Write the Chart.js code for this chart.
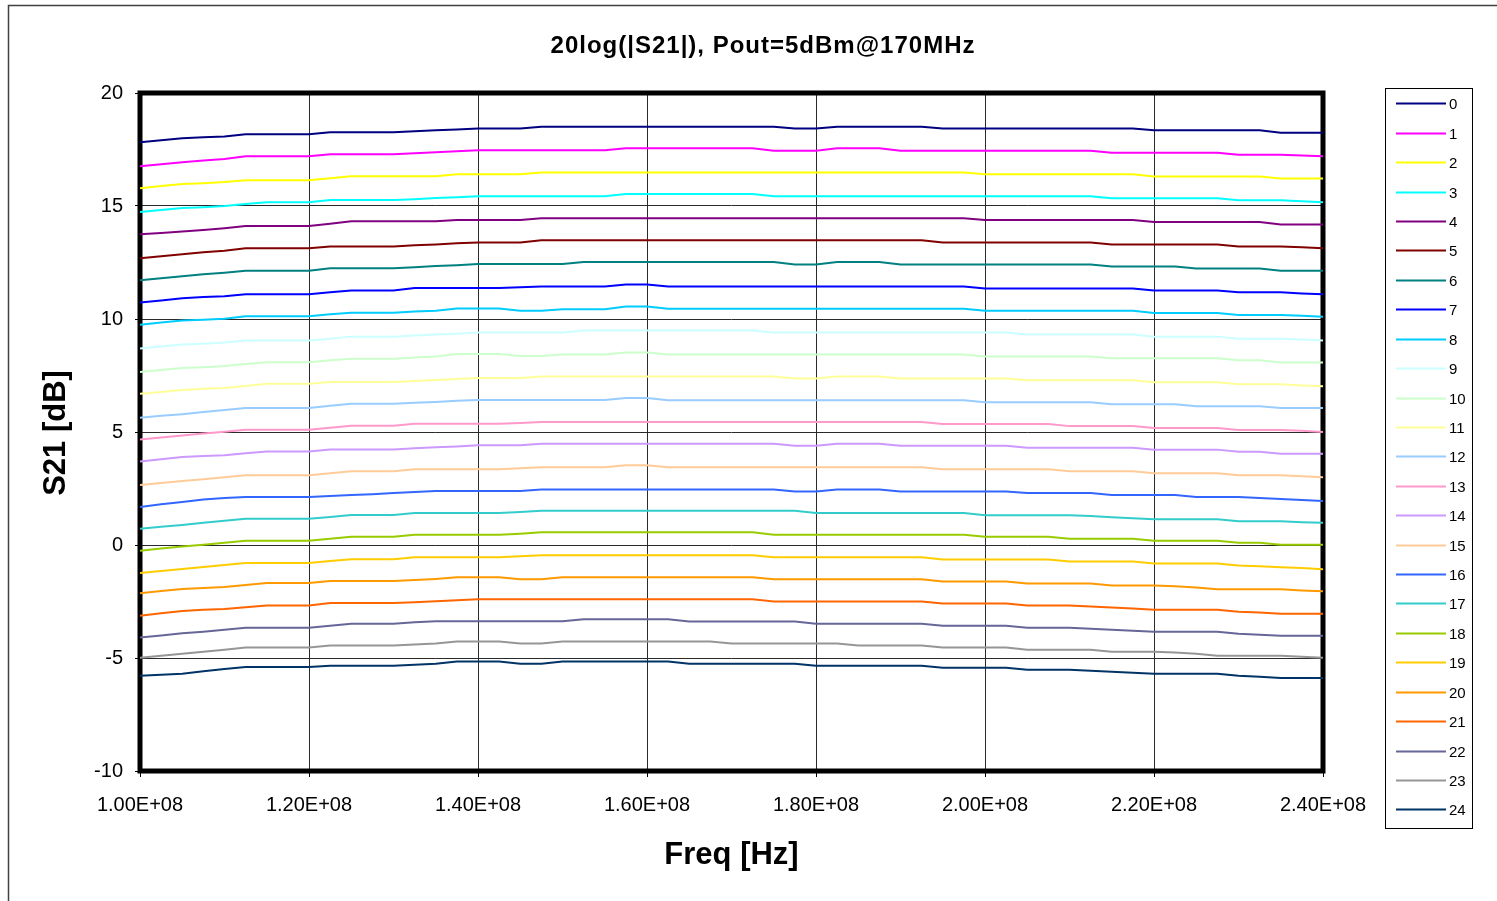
<!DOCTYPE html>
<html>
<head>
<meta charset="utf-8">
<title>S21 vs Freq</title>
<script src="https://cdn.jsdelivr.net/npm/chart.js@4.4.1/dist/chart.umd.min.js"></script>
<style>
  html, body { margin: 0; padding: 0; background: #fff; }
  #wrap { position: relative; width: 1497px; height: 901px; }
</style>
</head>
<body>
<div id="wrap"><canvas id="s21-chart"></canvas></div>
<script>
// Frequency points [MHz]
const freqMHz = [
  100, 102.5, 105, 107.5, 110, 112.5, 115, 117.5, 120, 122.5, 125, 127.5, 130, 132.5, 135, 137.5, 140, 142.5, 145,
  147.5, 150, 152.5, 155, 157.5, 160, 162.5, 165, 167.5, 170, 172.5, 175, 177.5, 180, 182.5, 185, 187.5, 190, 192.5,
  195, 197.5, 200, 202.5, 205, 207.5, 210, 212.5, 215, 217.5, 220, 222.5, 225, 227.5, 230, 232.5, 235, 237.5, 240
];

const xTickValues = [1.0e8, 1.2e8, 1.4e8, 1.6e8, 1.8e8, 2.0e8, 2.2e8, 2.4e8];
const xTickLabels = ['1.00E+08', '1.20E+08', '1.40E+08', '1.60E+08', '1.80E+08', '2.00E+08', '2.20E+08', '2.40E+08'];
const yTickValues = [-10, -5, 0, 5, 10, 15, 20];
const yTickLabels = ['-10', '-5', '0', '5', '10', '15', '20'];

const seriesNames = ['0','1','2','3','4','5','6','7','8','9','10','11','12','13','14','15','16','17','18','19','20','21','22','23','24'];
const seriesColors = [
  '#000080', '#FF00FF', '#FFFF00', '#00FFFF', '#800080', '#800000', '#008080', '#0000FF', '#00CCFF',
  '#CCFFFF', '#CCFFCC', '#FFFF99', '#99CCFF', '#FF99CC', '#CC99FF', '#FFCC99', '#3366FF', '#33CCCC',
  '#99CC00', '#FFCC00', '#FF9900', '#FF6600', '#666699', '#969696', '#003366'
];

// 20log|S21| [dB], one array per curve
const s0 = [
  17.82,17.91,18.00,18.04,18.07,18.17,18.17,18.17,18.17,18.26,18.26,18.26,18.26,18.31,18.35,18.39,18.43,18.43,18.43,
  18.51,18.51,18.51,18.51,18.51,18.51,18.51,18.51,18.51,18.51,18.51,18.51,18.43,18.43,18.51,18.51,18.51,18.51,18.51,
  18.43,18.43,18.43,18.43,18.43,18.43,18.43,18.43,18.43,18.43,18.35,18.35,18.35,18.35,18.35,18.35,18.24,18.24,18.24];
const s1 = [
  16.76,16.85,16.94,17.01,17.08,17.20,17.20,17.20,17.20,17.29,17.29,17.29,17.29,17.33,17.38,17.42,17.47,17.47,17.47,
  17.47,17.47,17.47,17.47,17.55,17.55,17.55,17.55,17.55,17.55,17.55,17.45,17.45,17.45,17.55,17.55,17.55,17.45,17.45,
  17.45,17.45,17.45,17.45,17.45,17.45,17.45,17.45,17.36,17.36,17.36,17.36,17.36,17.36,17.27,17.27,17.27,17.24,17.20];
const s2 = [
  15.79,15.88,15.97,16.01,16.06,16.14,16.14,16.14,16.14,16.23,16.32,16.32,16.32,16.32,16.32,16.41,16.41,16.41,16.41,
  16.48,16.48,16.48,16.48,16.48,16.48,16.48,16.48,16.48,16.48,16.48,16.48,16.48,16.48,16.48,16.48,16.48,16.48,16.48,
  16.48,16.48,16.41,16.41,16.41,16.41,16.41,16.41,16.41,16.41,16.31,16.31,16.31,16.31,16.31,16.31,16.22,16.22,16.22];
const s3 = [
  14.73,14.82,14.91,14.95,15.00,15.09,15.17,15.17,15.17,15.26,15.26,15.26,15.26,15.30,15.35,15.39,15.43,15.43,15.43,
  15.43,15.43,15.43,15.43,15.53,15.53,15.53,15.53,15.53,15.53,15.53,15.43,15.43,15.43,15.43,15.43,15.43,15.43,15.43,
  15.43,15.43,15.43,15.43,15.43,15.43,15.43,15.43,15.34,15.34,15.34,15.34,15.34,15.34,15.25,15.25,15.25,15.21,15.17];
const s4 = [
  13.75,13.81,13.87,13.94,14.02,14.11,14.11,14.11,14.11,14.21,14.32,14.32,14.32,14.32,14.32,14.38,14.38,14.38,14.38,
  14.46,14.46,14.46,14.46,14.46,14.46,14.46,14.46,14.46,14.46,14.46,14.46,14.46,14.46,14.46,14.46,14.46,14.46,14.46,
  14.46,14.46,14.38,14.38,14.38,14.38,14.38,14.38,14.38,14.38,14.29,14.29,14.29,14.29,14.29,14.29,14.18,14.18,14.18];
const s5 = [
  12.69,12.78,12.87,12.95,13.02,13.13,13.13,13.13,13.13,13.21,13.21,13.21,13.21,13.26,13.30,13.35,13.39,13.39,13.39,
  13.48,13.48,13.48,13.48,13.48,13.48,13.48,13.48,13.48,13.48,13.48,13.48,13.48,13.48,13.48,13.48,13.48,13.48,13.48,
  13.39,13.39,13.39,13.39,13.39,13.39,13.39,13.39,13.30,13.30,13.30,13.30,13.30,13.30,13.21,13.21,13.21,13.17,13.13];
const s6 = [
  11.71,11.80,11.89,11.98,12.05,12.14,12.14,12.14,12.14,12.25,12.25,12.25,12.25,12.29,12.34,12.38,12.43,12.43,12.43,
  12.43,12.43,12.52,12.52,12.52,12.52,12.52,12.52,12.52,12.52,12.52,12.52,12.41,12.41,12.52,12.52,12.52,12.41,12.41,
  12.41,12.41,12.41,12.41,12.41,12.41,12.41,12.41,12.32,12.32,12.32,12.32,12.23,12.23,12.23,12.23,12.14,12.14,12.14];
const s7 = [
  10.73,10.82,10.92,10.97,11.01,11.09,11.09,11.09,11.09,11.18,11.26,11.26,11.26,11.37,11.37,11.37,11.37,11.37,11.40,
  11.44,11.44,11.44,11.44,11.53,11.53,11.44,11.44,11.44,11.44,11.44,11.44,11.44,11.44,11.44,11.44,11.44,11.44,11.44,
  11.44,11.44,11.35,11.35,11.35,11.35,11.35,11.35,11.35,11.35,11.26,11.26,11.26,11.26,11.18,11.18,11.18,11.13,11.09];
const s8 = [
  9.75,9.84,9.93,9.97,10.01,10.12,10.12,10.12,10.12,10.21,10.28,10.28,10.28,10.33,10.37,10.46,10.46,10.46,10.37,
  10.37,10.43,10.43,10.43,10.55,10.55,10.45,10.45,10.45,10.45,10.45,10.45,10.45,10.45,10.45,10.45,10.45,10.45,10.45,
  10.45,10.45,10.36,10.36,10.36,10.36,10.36,10.36,10.36,10.36,10.27,10.27,10.27,10.27,10.18,10.18,10.18,10.14,10.10];
const s9 = [
  8.70,8.78,8.87,8.91,8.96,9.05,9.05,9.05,9.05,9.13,9.22,9.22,9.22,9.27,9.31,9.35,9.40,9.40,9.40,
  9.40,9.40,9.49,9.49,9.49,9.49,9.49,9.49,9.49,9.49,9.49,9.40,9.40,9.40,9.40,9.40,9.40,9.40,9.40,
  9.40,9.40,9.40,9.40,9.31,9.31,9.31,9.31,9.31,9.31,9.22,9.22,9.22,9.22,9.13,9.13,9.13,9.09,9.05];
const s10 = [
  7.65,7.74,7.83,7.87,7.92,8.01,8.09,8.09,8.09,8.17,8.24,8.24,8.24,8.30,8.34,8.45,8.45,8.45,8.36,
  8.36,8.43,8.43,8.43,8.52,8.52,8.43,8.43,8.43,8.43,8.43,8.43,8.43,8.43,8.43,8.43,8.43,8.43,8.43,
  8.43,8.43,8.34,8.34,8.34,8.34,8.34,8.34,8.26,8.26,8.26,8.26,8.26,8.26,8.17,8.17,8.08,8.08,8.08];
const s11 = [
  6.69,6.77,6.86,6.91,6.95,7.04,7.13,7.13,7.13,7.21,7.21,7.21,7.21,7.26,7.30,7.34,7.39,7.39,7.39,
  7.46,7.46,7.46,7.46,7.46,7.46,7.46,7.46,7.46,7.46,7.46,7.46,7.37,7.37,7.46,7.46,7.46,7.37,7.37,
  7.37,7.37,7.37,7.37,7.29,7.29,7.29,7.29,7.29,7.29,7.20,7.20,7.20,7.20,7.11,7.11,7.11,7.06,7.02];
const s12 = [
  5.63,5.72,5.79,5.88,5.97,6.06,6.06,6.06,6.06,6.16,6.25,6.25,6.25,6.29,6.33,6.38,6.42,6.42,6.42,
  6.42,6.42,6.42,6.42,6.50,6.50,6.41,6.41,6.41,6.41,6.41,6.41,6.41,6.41,6.41,6.41,6.41,6.41,6.41,
  6.41,6.41,6.32,6.32,6.32,6.32,6.32,6.32,6.23,6.23,6.23,6.23,6.14,6.14,6.14,6.14,6.06,6.06,6.06];
const s13 = [
  4.67,4.76,4.85,4.93,5.01,5.10,5.10,5.10,5.10,5.19,5.28,5.28,5.28,5.37,5.37,5.37,5.37,5.37,5.40,
  5.44,5.44,5.44,5.44,5.44,5.44,5.44,5.44,5.44,5.44,5.44,5.44,5.44,5.44,5.44,5.44,5.44,5.44,5.44,
  5.35,5.35,5.35,5.35,5.35,5.35,5.26,5.26,5.26,5.26,5.18,5.18,5.18,5.18,5.09,5.09,5.09,5.05,5.00];
const s14 = [
  3.69,3.79,3.89,3.94,3.97,4.06,4.14,4.14,4.14,4.23,4.23,4.23,4.23,4.28,4.32,4.36,4.41,4.41,4.41,
  4.48,4.48,4.48,4.48,4.48,4.48,4.48,4.48,4.48,4.48,4.48,4.48,4.39,4.39,4.48,4.48,4.48,4.39,4.39,
  4.39,4.39,4.39,4.39,4.30,4.30,4.30,4.30,4.30,4.30,4.22,4.22,4.22,4.22,4.13,4.13,4.04,4.04,4.04];
const s15 = [
  2.65,2.74,2.83,2.91,3.00,3.09,3.09,3.09,3.09,3.18,3.26,3.26,3.26,3.35,3.35,3.35,3.35,3.35,3.40,
  3.44,3.44,3.44,3.44,3.53,3.53,3.44,3.44,3.44,3.44,3.44,3.44,3.44,3.44,3.44,3.44,3.44,3.44,3.44,
  3.35,3.35,3.35,3.35,3.35,3.35,3.26,3.26,3.26,3.26,3.18,3.18,3.18,3.18,3.09,3.09,3.09,3.04,3.00];
const s16 = [
  1.68,1.80,1.90,2.01,2.08,2.12,2.12,2.12,2.12,2.17,2.21,2.25,2.30,2.34,2.39,2.39,2.39,2.39,2.39,
  2.46,2.46,2.46,2.46,2.46,2.46,2.46,2.46,2.46,2.46,2.46,2.46,2.37,2.37,2.46,2.46,2.46,2.37,2.37,
  2.37,2.37,2.37,2.37,2.30,2.30,2.30,2.30,2.21,2.21,2.21,2.21,2.12,2.12,2.12,2.08,2.04,1.99,1.95];
const s17 = [
  0.72,0.81,0.89,0.98,1.07,1.16,1.16,1.16,1.16,1.24,1.33,1.33,1.33,1.42,1.42,1.42,1.42,1.42,1.46,
  1.51,1.51,1.51,1.51,1.51,1.51,1.51,1.51,1.51,1.51,1.51,1.51,1.51,1.42,1.42,1.42,1.42,1.42,1.42,
  1.42,1.42,1.32,1.32,1.32,1.32,1.32,1.28,1.23,1.18,1.14,1.14,1.14,1.14,1.05,1.05,1.05,1.01,0.98];
const s18 = [
  -0.25,-0.16,-0.07,0.01,0.10,0.19,0.19,0.19,0.19,0.28,0.37,0.37,0.37,0.45,0.45,0.45,0.45,0.45,0.50,
  0.56,0.56,0.56,0.56,0.56,0.56,0.56,0.56,0.56,0.56,0.56,0.45,0.45,0.45,0.45,0.45,0.45,0.45,0.45,
  0.45,0.45,0.37,0.37,0.37,0.37,0.28,0.28,0.28,0.28,0.19,0.19,0.19,0.19,0.10,0.10,0.01,0.01,0.01];
const s19 = [
  -1.24,-1.15,-1.06,-0.97,-0.89,-0.80,-0.80,-0.80,-0.80,-0.71,-0.63,-0.63,-0.63,-0.54,-0.54,-0.54,-0.54,-0.54,-0.50,
  -0.45,-0.45,-0.45,-0.45,-0.45,-0.45,-0.45,-0.45,-0.45,-0.45,-0.45,-0.54,-0.54,-0.54,-0.54,-0.54,-0.54,-0.54,-0.54,
  -0.64,-0.64,-0.64,-0.64,-0.64,-0.64,-0.73,-0.73,-0.73,-0.73,-0.82,-0.82,-0.82,-0.82,-0.91,-0.94,-0.98,-1.02,-1.07];
const s20 = [
  -2.13,-2.04,-1.95,-1.90,-1.86,-1.77,-1.68,-1.68,-1.68,-1.59,-1.59,-1.59,-1.59,-1.55,-1.50,-1.43,-1.43,-1.43,-1.52,
  -1.52,-1.43,-1.43,-1.43,-1.43,-1.43,-1.43,-1.43,-1.43,-1.43,-1.43,-1.52,-1.52,-1.52,-1.52,-1.52,-1.52,-1.52,-1.52,
  -1.61,-1.61,-1.61,-1.61,-1.70,-1.70,-1.70,-1.70,-1.79,-1.79,-1.79,-1.83,-1.88,-1.96,-1.96,-1.96,-1.96,-2.01,-2.05];
const s21 = [
  -3.13,-3.02,-2.92,-2.87,-2.83,-2.75,-2.68,-2.68,-2.68,-2.57,-2.57,-2.57,-2.57,-2.53,-2.49,-2.44,-2.40,-2.40,-2.40,
  -2.40,-2.40,-2.40,-2.40,-2.40,-2.40,-2.40,-2.40,-2.40,-2.40,-2.40,-2.50,-2.50,-2.50,-2.50,-2.50,-2.50,-2.50,-2.50,
  -2.59,-2.59,-2.59,-2.59,-2.68,-2.68,-2.68,-2.72,-2.77,-2.81,-2.86,-2.86,-2.86,-2.86,-2.95,-2.99,-3.04,-3.04,-3.04];
const s22 = [
  -4.09,-4.00,-3.91,-3.84,-3.75,-3.66,-3.66,-3.66,-3.66,-3.57,-3.48,-3.48,-3.48,-3.42,-3.37,-3.37,-3.37,-3.37,-3.37,
  -3.37,-3.37,-3.29,-3.29,-3.29,-3.29,-3.29,-3.39,-3.39,-3.39,-3.39,-3.39,-3.39,-3.48,-3.48,-3.48,-3.48,-3.48,-3.48,
  -3.57,-3.57,-3.57,-3.57,-3.66,-3.66,-3.66,-3.71,-3.75,-3.79,-3.84,-3.84,-3.84,-3.84,-3.93,-3.97,-4.02,-4.02,-4.02];
const s23 = [
  -4.99,-4.90,-4.81,-4.72,-4.63,-4.54,-4.54,-4.54,-4.54,-4.45,-4.45,-4.45,-4.45,-4.40,-4.36,-4.27,-4.27,-4.27,-4.36,
  -4.36,-4.27,-4.27,-4.27,-4.27,-4.27,-4.27,-4.27,-4.27,-4.36,-4.36,-4.36,-4.36,-4.36,-4.36,-4.45,-4.45,-4.45,-4.45,
  -4.54,-4.54,-4.54,-4.54,-4.63,-4.63,-4.63,-4.63,-4.72,-4.72,-4.72,-4.76,-4.81,-4.90,-4.90,-4.90,-4.90,-4.95,-4.99];
const s24 = [
  -5.79,-5.74,-5.70,-5.59,-5.49,-5.40,-5.40,-5.40,-5.40,-5.34,-5.34,-5.34,-5.34,-5.30,-5.25,-5.16,-5.16,-5.16,-5.25,
  -5.25,-5.16,-5.16,-5.16,-5.16,-5.16,-5.16,-5.25,-5.25,-5.25,-5.25,-5.25,-5.25,-5.34,-5.34,-5.34,-5.34,-5.34,-5.34,
  -5.43,-5.43,-5.43,-5.43,-5.52,-5.52,-5.52,-5.56,-5.61,-5.65,-5.70,-5.70,-5.70,-5.70,-5.79,-5.83,-5.88,-5.88,-5.88];

const allSeries = [s0, s1, s2, s3, s4, s5, s6, s7, s8, s9, s10, s11, s12, s13, s14, s15, s16, s17, s18, s19, s20, s21, s22, s23, s24];

const FONT = '"Liberation Sans", Arial, sans-serif';

// frame, plot border, titles and the boxed legend
const decorPlugin = {
  id: 'decor',
  beforeDraw(chart) {
    const ctx = chart.ctx;
    ctx.save();
    ctx.fillStyle = '#fff';
    ctx.fillRect(0, 0, chart.width, chart.height);
    ctx.strokeStyle = '#404040';
    ctx.lineWidth = 1.5;
    ctx.strokeRect(8.5, 5.5, chart.width + 20, chart.height + 20);
    ctx.restore();
  },
  beforeDatasetsDraw(chart) {
    const a = chart.chartArea;
    const ctx = chart.ctx;
    ctx.save();
    ctx.strokeStyle = '#000';
    ctx.lineWidth = 5;
    ctx.strokeRect(a.left, a.top, a.right - a.left, a.bottom - a.top);
    ctx.restore();
  },
  afterDraw(chart) {
    const ctx = chart.ctx;
    const a = chart.chartArea;
    ctx.save();
    ctx.fillStyle = '#000';
    ctx.textAlign = 'center';
    ctx.textBaseline = 'middle';

    // title
    ctx.font = 'bold 24px ' + FONT;
    if ('letterSpacing' in ctx) ctx.letterSpacing = '1px';
    ctx.fillText('20log(|S21|), Pout=5dBm@170MHz', 763, 46);
    if ('letterSpacing' in ctx) ctx.letterSpacing = '0px';

    // axis titles
    ctx.font = 'bold 31px ' + FONT;
    ctx.fillText('Freq [Hz]', (a.left + a.right) / 2, 855);
    ctx.save();
    ctx.translate(56, 433);
    ctx.rotate(-Math.PI / 2);
    ctx.fillText('S21 [dB]', 0, 0);
    ctx.restore();

    // legend
    ctx.strokeStyle = '#000';
    ctx.lineWidth = 1;
    ctx.strokeRect(1385.5, 88.5, 87, 740);
    ctx.textAlign = 'left';
    ctx.font = '15px "Liberation Sans Narrow", ' + FONT;
    chart.data.datasets.forEach(function(ds, i) {
      const y = Math.round(103.3 + i * 29.42) + 0.5;
      ctx.strokeStyle = ds.borderColor;
      ctx.lineWidth = 2;
      ctx.beginPath();
      ctx.moveTo(1396, y);
      ctx.lineTo(1446, y);
      ctx.stroke();
      ctx.fillStyle = '#000';
      ctx.fillText(ds.label, 1449, y + 1);
    });
    ctx.restore();
  }
};

document.addEventListener('DOMContentLoaded', function() {
  const ctx = document.getElementById('s21-chart').getContext('2d');
  new Chart(ctx, {
    type: 'line',
    data: {
      datasets: allSeries.map(function(vals, i) {
        return {
          label: seriesNames[i],
          data: vals.map(function(v, j) { return { x: freqMHz[j] * 1e6, y: v }; }),
          borderColor: seriesColors[i],
          backgroundColor: seriesColors[i],
          borderWidth: 2,
          pointRadius: 0,
          tension: 0,
          fill: false
        };
      })
    },
    options: {
      responsive: true,
      maintainAspectRatio: false,
      animation: false,
      layout: { padding: { left: 0, top: 93, right: 174, bottom: 0 } },
      plugins: {
        legend: { display: false },
        title: { display: false },
        tooltip: { enabled: false }
      },
      scales: {
        x: {
          type: 'linear',
          min: 1e8,
          max: 2.4e8,
          afterBuildTicks: function(scale) {
            scale.ticks = xTickValues.map(function(v) { return { value: v }; });
          },
          afterFit: function(scale) { scale.height = 130; },
          ticks: {
            callback: function(v, i) { return xTickLabels[i]; },
            font: { family: FONT, size: 20 },
            color: '#000',
            padding: 16,
            maxRotation: 0,
            autoSkip: false
          },
          grid: { color: '#2a2a2a', lineWidth: 1, tickLength: 6, tickColor: '#000' },
          border: { display: false }
        },
        y: {
          min: -10,
          max: 20,
          afterBuildTicks: function(scale) {
            scale.ticks = yTickValues.map(function(v) { return { value: v }; });
          },
          afterFit: function(scale) { scale.width = 140; },
          ticks: {
            callback: function(v, i) { return yTickLabels[i]; },
            font: { family: FONT, size: 20 },
            color: '#000',
            padding: 12
          },
          grid: { color: '#2a2a2a', lineWidth: 1, tickLength: 5, tickColor: '#000' },
          border: { display: false }
        }
      }
    },
    plugins: [decorPlugin]
  });
});
</script>
</body>
</html>
